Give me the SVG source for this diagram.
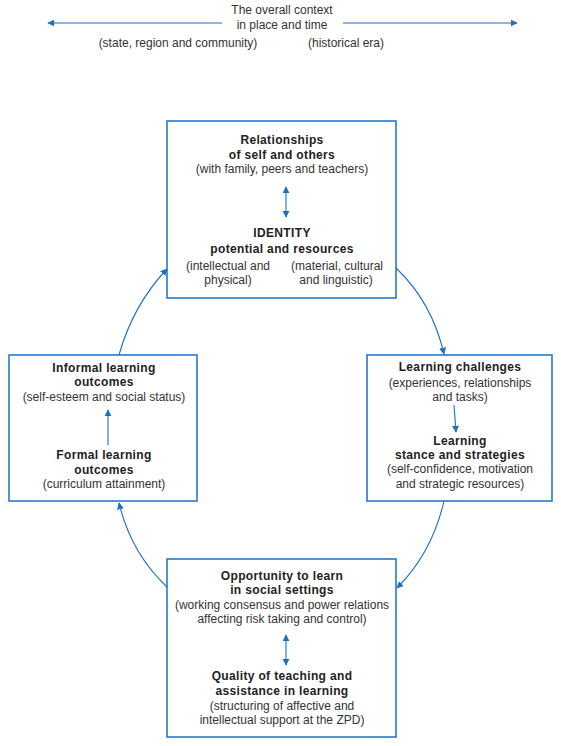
<svg xmlns="http://www.w3.org/2000/svg" width="561" height="746" viewBox="0 0 561 746">
<defs>
<marker id="ah" viewBox="0 0 10 10" refX="9" refY="5" markerWidth="7" markerHeight="7" markerUnits="userSpaceOnUse" orient="auto-start-reverse">
<path d="M0,0 L10,5 L0,10 z" fill="#1a6fc9"/>
</marker>
<style>
.box{fill:#fff;stroke:#1a6fc9;stroke-width:1.5}
text{font-family:"Liberation Sans",Arial,sans-serif;font-size:12px;fill:#333;text-anchor:middle}
.b{font-weight:bold;fill:#222;letter-spacing:0.35px}
.c{fill:none;stroke:#1a6fc9;stroke-width:1.1}
</style>
</defs>
<rect width="561" height="746" fill="#fff"/>
<g id="context">
<text x="282" y="14">The overall context</text>
<text x="282" y="29">in place and time</text>
<text x="178" y="47">(state, region and community)</text>
<text x="346" y="47">(historical era)</text>
</g>
<g id="node-identity">
<rect class="box" x="167" y="121" width="229" height="177"/>
<text class="b" x="282" y="144">Relationships</text>
<text class="b" x="282" y="159">of self and others</text>
<text x="282" y="173">(with family, peers and teachers)</text>
<text class="b" x="282" y="237">IDENTITY</text>
<text class="b" x="282" y="253">potential and resources</text>
<text x="228" y="270">(intellectual and</text>
<text x="228" y="284">physical)</text>
<text x="337" y="270">(material, cultural</text>
<text x="336" y="284">and linguistic)</text>
</g>
<g id="node-challenges">
<rect class="box" x="367" y="355" width="185" height="146"/>
<text class="b" x="460" y="371">Learning challenges</text>
<text x="460" y="387">(experiences, relationships</text>
<text x="460" y="401">and tasks)</text>
<text class="b" x="460" y="445">Learning</text>
<text class="b" x="460" y="459">stance and strategies</text>
<text x="460" y="473">(self-confidence, motivation</text>
<text x="460" y="488">and strategic resources)</text>
</g>
<g id="node-outcomes">
<rect class="box" x="9" y="355" width="188" height="146"/>
<text class="b" x="104" y="372">Informal learning</text>
<text class="b" x="104" y="386">outcomes</text>
<text x="104" y="401">(self-esteem and social status)</text>
<text class="b" x="104" y="459">Formal learning</text>
<text class="b" x="104" y="474">outcomes</text>
<text x="104" y="488">(curriculum attainment)</text>
</g>
<g id="node-opportunity">
<rect class="box" x="167" y="559" width="229" height="178"/>
<text class="b" x="282" y="580">Opportunity to learn</text>
<text class="b" x="282" y="594">in social settings</text>
<text x="282" y="609">(working consensus and power relations</text>
<text x="282" y="623">affecting risk taking and control)</text>
<text class="b" x="282" y="680">Quality of teaching and</text>
<text class="b" x="282" y="695">assistance in learning</text>
<text x="282" y="710">(structuring of affective and</text>
<text x="282" y="724">intellectual support at the ZPD)</text>
</g>
<g id="connectors">
<path class="c" d="M222,23 L48,23" marker-end="url(#ah)"/>
<path class="c" d="M343,23 L517,23" marker-end="url(#ah)"/>
<path class="c" d="M286,187 L286,217" marker-start="url(#ah)" marker-end="url(#ah)"/>
<path class="c" d="M454,405 L456,432" marker-end="url(#ah)"/>
<path class="c" d="M108,445 L108,410" marker-end="url(#ah)"/>
<path class="c" d="M286,635 L286,665" marker-start="url(#ah)" marker-end="url(#ah)"/>
<path class="c" d="M396,268 Q432,302 444,354" marker-end="url(#ah)"/>
<path class="c" d="M444,501 Q432,553 397,588" marker-end="url(#ah)"/>
<path class="c" d="M167,587 Q131,553 119,503" marker-end="url(#ah)"/>
<path class="c" d="M119,355 Q133,305 167,269" marker-end="url(#ah)"/>
</g>
</svg>
